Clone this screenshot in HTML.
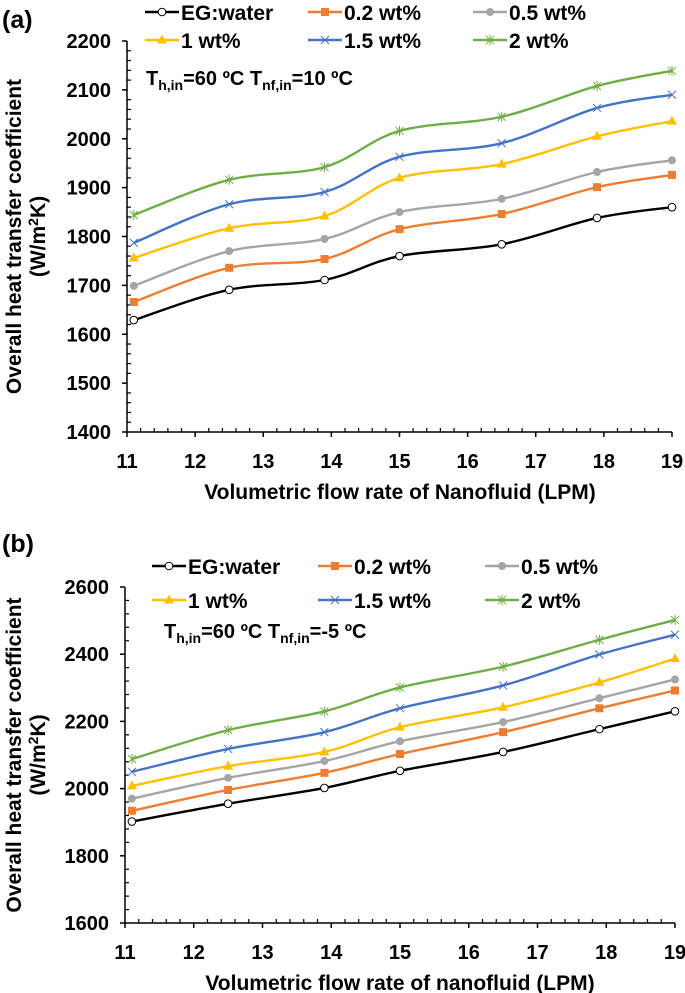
<!DOCTYPE html>
<html><head><meta charset="utf-8">
<style>
html,body{margin:0;padding:0;background:#fff;}
svg{display:block;font-family:"Liberation Sans",Arial,sans-serif;font-weight:bold;}
</style></head>
<body>
<svg id="chart" width="685" height="993" viewBox="0 0 685 993" xmlns="http://www.w3.org/2000/svg"></svg>
<script>
const xValues = [11.1, 12.5, 13.9, 15.0, 16.5, 17.9, 19.0];
const seriesNames = ["EG:water", "0.2 wt%", "0.5 wt%", "1 wt%", "1.5 wt%", "2 wt%"];
const aEG  = [1629, 1691, 1711, 1760, 1784, 1838, 1860];
const a02  = [1666, 1736, 1754, 1815, 1846, 1901, 1926];
const a05  = [1699, 1770, 1795, 1850, 1877, 1932, 1956];
const a1   = [1756, 1817, 1842, 1920, 1948, 2005, 2036];
const a15  = [1787, 1866, 1891, 1963, 1991, 2063, 2090];
const a2   = [1844, 1916, 1942, 2016, 2045, 2108, 2139];
const bEG  = [1902, 1955, 2002, 2053, 2109, 2177, 2230];
const b02  = [1934, 1996, 2047, 2103, 2168, 2239, 2292];
const b05  = [1970, 2032, 2082, 2141, 2198, 2269, 2325];
const b1   = [2008, 2067, 2109, 2183, 2242, 2316, 2387];
const b15  = [2050, 2118, 2168, 2239, 2307, 2399, 2458];
const b2   = [2088, 2174, 2230, 2301, 2363, 2443, 2502];
const xTicks = [11, 12, 13, 14, 15, 16, 17, 18, 19];
const aYTicks = [1400, 1500, 1600, 1700, 1800, 1900, 2000, 2100, 2200];
const bYTicks = [1600, 1800, 2000, 2200, 2400, 2600];

const colors = ["#000000", "#ED7D31", "#A5A5A5", "#FFC000", "#4472C4", "#70AD47"];
const markers = ["circle", "square", "dot", "triangle", "x", "star"];
const NS = "http://www.w3.org/2000/svg";
const svg = document.getElementById("chart");

function el(tag, attrs, parent) {
  const e = document.createElementNS(NS, tag);
  for (const k in attrs) e.setAttribute(k, attrs[k]);
  (parent || svg).appendChild(e);
  return e;
}

function smoothPath(pts) {
  let d = "M" + pts[0][0] + "," + pts[0][1];
  for (let i = 0; i < pts.length - 1; i++) {
    const p0 = pts[i - 1] || pts[i], p1 = pts[i], p2 = pts[i + 1], p3 = pts[i + 2] || p2;
    const t = 1 / 6;
    const c1x = p1[0] + (p2[0] - p0[0]) * t, c1y = p1[1] + (p2[1] - p0[1]) * t;
    const c2x = p2[0] - (p3[0] - p1[0]) * t, c2y = p2[1] - (p3[1] - p1[1]) * t;
    d += " C" + c1x + "," + c1y + " " + c2x + "," + c2y + " " + p2[0] + "," + p2[1];
  }
  return d;
}

function drawMarker(g, type, x, y, c) {
  let m;
  if (type === "circle") m = el("circle", {cx: x, cy: y, r: 3.8, fill: "#fff", stroke: c, "stroke-width": 1}, g);
  else if (type === "square") m = el("rect", {x: x - 4, y: y - 4, width: 8, height: 8, fill: c}, g);
  else if (type === "dot") m = el("circle", {cx: x, cy: y, r: 4, fill: c}, g);
  else if (type === "triangle") m = el("polygon", {points: (x) + "," + (y - 5.5) + " " + (x - 5) + "," + (y + 3.5) + " " + (x + 5) + "," + (y + 3.5), fill: c}, g);
  else if (type === "x") m = el("path", {d: "M" + (x - 4) + "," + (y - 4) + "L" + (x + 4) + "," + (y + 4) + "M" + (x - 4) + "," + (y + 4) + "L" + (x + 4) + "," + (y - 4), stroke: c, "stroke-width": 1, fill: "none"}, g);
  else m = el("path", {d: "M" + (x - 4) + "," + (y - 4) + "L" + (x + 4) + "," + (y + 4) + "M" + (x - 4) + "," + (y + 4) + "L" + (x + 4) + "," + (y - 4) + "M" + x + "," + (y - 5) + "L" + x + "," + (y + 5), stroke: c, "stroke-width": 1, fill: "none"}, g);
  
  
}

function panel(cfg) {
  const g = el("g", {});
  
  
  const xs = v => cfg.x0 + (v - 11) / 8 * (cfg.x1 - cfg.x0);
  const ys = v => cfg.yBot + (v - cfg.yMin) / (cfg.yMax - cfg.yMin) * (cfg.yTop - cfg.yBot);

  const pl = el("text", {x: 2, y: cfg.labelY, "font-size": 25}, g);
  pl.textContent = cfg.label;
  
  

  const ax = el("g", {stroke: "#000", "stroke-width": 1.5}, g);
  
  
  el("line", {x1: cfg.x0, y1: cfg.yTop, x2: cfg.x0, y2: cfg.yBot}, ax);
  el("line", {x1: cfg.x0, y1: cfg.yBot, x2: cfg.x1, y2: cfg.yBot}, ax);
  const yT = cfg.yTicks;
  for (let i = 0; i < yT.length; i++) {
    const y = ys(yT[i]);
    el("line", {x1: cfg.x0 - 5, y1: y, x2: cfg.x0, y2: y}, ax);
    const t = el("text", {x: cfg.x0 - 16, y: y + 7, "text-anchor": "end", "font-size": 20, stroke: "none"}, g);
    t.textContent = yT[i];
    
    
    if (i < yT.length - 1) {
      const step = (yT[i + 1] - yT[i]) / 5;
      for (let k = 1; k < 5; k++) {
        const yy = ys(yT[i] + step * k);
        el("line", {x1: cfg.x0, y1: yy, x2: cfg.x0 + 4, y2: yy, "stroke-width": 1.2}, ax);
      }
    }
  }
  for (let i = 0; i < xTicks.length; i++) {
    const x = xs(xTicks[i]);
    el("line", {x1: x, y1: cfg.yBot, x2: x, y2: cfg.yBot + 5}, ax);
    const t = el("text", {x: x, y: cfg.yBot + 36, "text-anchor": "middle", "font-size": 20}, g);
    t.textContent = xTicks[i];
    
    
    if (i < xTicks.length - 1) {
      for (let k = 1; k < 5; k++) {
        const xx = xs(xTicks[i] + k / 5);
        el("line", {x1: xx, y1: cfg.yBot, x2: xx, y2: cfg.yBot - 4, "stroke-width": 1.2}, ax);
      }
    }
  }
  const xt = el("text", {x: 400, y: cfg.yBot + 67, "text-anchor": "middle", "font-size": 21}, g);
  xt.textContent = cfg.xTitle;
  
  
  const cy = (cfg.yTop + cfg.yBot) / 2;
  const yt = el("text", {transform: "translate(21," + cy + ") rotate(-90)", "text-anchor": "middle", "font-size": 21}, g);
  yt.textContent = "Overall heat transfer coefficient";
  
  
  const yt2 = el("text", {transform: "translate(45," + cy + ") rotate(-90)", "text-anchor": "middle", "font-size": 21}, g);
  yt2.innerHTML = '(W/m<tspan font-size="14" dy="-7">2</tspan><tspan dy="7">K)</tspan>';
  
  

  cfg.series.forEach((vals, si) => {
    const sg = el("g", {}, g);
    
    
    const pts = xValues.map((xv, i) => [xs(xv), ys(vals[i])]);
    const p = el("path", {d: smoothPath(pts), fill: "none", stroke: colors[si], "stroke-width": 2.4}, sg);
    
    
    pts.forEach(pt => drawMarker(sg, markers[si], pt[0], pt[1], colors[si]));
  });

  const lg = el("g", {}, g);
  
  
  seriesNames.forEach((n, i) => {
    const col = i % 3, row = Math.floor(i / 3);
    const lx = cfg.legX[col], ly = cfg.legY[row];
    const e = el("g", {}, lg);
    
    
    el("line", {x1: lx, y1: ly, x2: lx + 34, y2: ly, stroke: colors[i], "stroke-width": 2.4}, e);
    drawMarker(e, markers[i], lx + 17, ly, colors[i]);
    const t = el("text", {x: lx + 36, y: ly + 8, "font-size": 21}, e);
    t.textContent = n;
  });

  const an = el("text", {x: cfg.annX, y: cfg.annY, "font-size": 20}, g);
  an.innerHTML = 'T<tspan font-size="14" dy="5">h,in</tspan><tspan dy="-5">=60 ºC  T</tspan><tspan font-size="14" dy="5">nf,in</tspan><tspan dy="-5">=' + cfg.tnf + ' ºC</tspan>';
  
  
}

panel({name: "panel-a", label: "(a)", labelY: 28, x0: 127, x1: 672, yTop: 41, yBot: 432, yMin: 1400, yMax: 2200,
  yTicks: aYTicks, series: [aEG, a02, a05, a1, a15, a2], xTitle: "Volumetric flow rate of Nanofluid (LPM)",
  legX: [145, 308, 473], legY: [12, 40], annX: 146, annY: 85, tnf: "10"});
panel({name: "panel-b", label: "(b)", labelY: 552, x0: 125, x1: 675, yTop: 587, yBot: 923, yMin: 1600, yMax: 2600,
  yTicks: bYTicks, series: [bEG, b02, b05, b1, b15, b2], xTitle: "Volumetric flow rate of nanofluid (LPM)",
  legX: [152, 318, 485], legY: [566, 600], annX: 164, annY: 638, tnf: "-5"});
</script>
</body></html>
